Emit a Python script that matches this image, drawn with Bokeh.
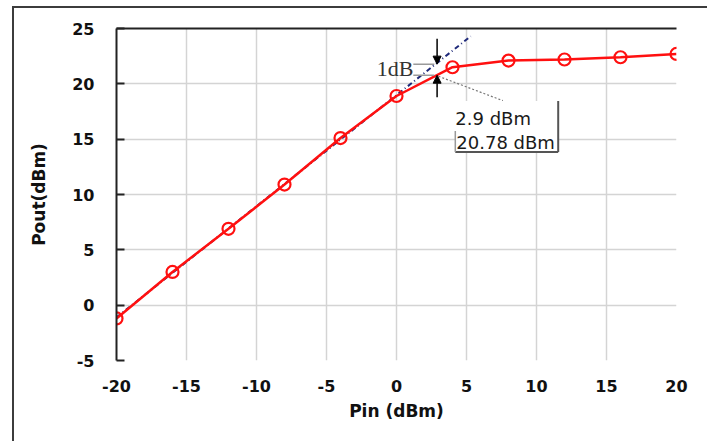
from bokeh.plotting import figure
from bokeh.models import Range1d, Arrow, NormalHead, LinearAxis, FixedTicker, Label
from bokeh.embed import file_html
from bokeh.resources import INLINE

# data
pin = [-20, -16, -12, -8, -4, 0, 4, 8, 12, 16, 20]
pout = [-1.2, 3.0, 6.9, 10.9, 15.1, 18.9, 21.5, 22.1, 22.2, 22.4, 22.7]
lin_x = [-20, 5.3]
lin_y = [-1.1, 24.3]
x_ticks = [-20, -15, -10, -5, 0, 5, 10, 15, 20]
y_ticks = [-5, 0, 5, 10, 15, 20, 25]
p1db_in = 2.9
p1db_out = 20.78
comp_db = 1.0
label_lines = ["2.9 dBm", "20.78 dBm"]

p = figure(width=695, height=435, x_range=Range1d(-20, 20), y_range=Range1d(-5, 25),
           output_backend="svg", toolbar_location=None,
           min_border_left=102, min_border_right=33, min_border_top=20, min_border_bottom=83)
p.margin = (6, 0, 0, 12)
p.styles = {"border-left": "2px solid #3c3c3c", "border-top": "2px solid #3c3c3c"}
p.outline_line_color = None
p.background_fill_color = "white"

# grid
p.xgrid.ticker = FixedTicker(ticks=x_ticks)
p.ygrid.ticker = FixedTicker(ticks=y_ticks)
p.grid.grid_line_color = "#d4d4d4"
p.grid.grid_line_width = 1.5

# axes
font = "DejaVu Sans"
p.xaxis.ticker = FixedTicker(ticks=x_ticks)
p.yaxis.ticker = FixedTicker(ticks=y_ticks)
p.xaxis.major_label_overrides = {t: str(t) for t in x_ticks}
p.yaxis.major_label_overrides = {t: str(t) for t in y_ticks}
p.xaxis.axis_line_color = None
p.xaxis.major_tick_line_color = None
p.xaxis.minor_tick_line_color = None
p.xaxis.major_label_standoff = 13
p.xaxis.axis_label = "Pin (dBm)"
p.xaxis.axis_label_standoff = 6
p.yaxis.axis_line_color = "#222222"
p.yaxis.axis_line_width = 2
p.yaxis.major_tick_in = 8
p.yaxis.major_tick_out = 0
p.yaxis.major_tick_line_width = 2
p.yaxis.major_tick_line_color = "#222222"
p.yaxis.minor_tick_line_color = None
p.yaxis.major_label_standoff = 22
p.yaxis.axis_label = "Pout(dBm)"
p.yaxis.axis_label_standoff = 20
for ax in (p.xaxis, p.yaxis):
    ax.major_label_text_font = font
    ax.major_label_text_font_style = "bold"
    ax.major_label_text_font_size = "16px"
    ax.major_label_text_color = "#111111"
    ax.axis_label_text_font = font
    ax.axis_label_text_font_style = "bold"
    ax.axis_label_text_font_size = "17px"
    ax.axis_label_text_color = "#111111"

top = LinearAxis(ticker=FixedTicker(ticks=[]), axis_line_color="#222222", axis_line_width=2,
                 major_tick_line_color=None, minor_tick_line_color=None,
                 major_label_text_color=None)
p.add_layout(top, "above")

# linear extrapolation
p.line(lin_x, lin_y, line_color="#1f2a7a", line_width=2, line_dash="5 3 1 3")
# measured curve
p.line(pin, pout, line_color="#ff1010", line_width=2.5)
p.scatter(pin, pout, marker="circle", size=12, fill_color=None, line_color="#ff1010", line_width=2.2)

# 1 dB compression annotation
up_tip = p1db_out + comp_db
lo_tip = p1db_out
p.add_layout(Arrow(end=NormalHead(size=8, fill_color="black", line_color="black"),
                   x_start=p1db_in, y_start=up_tip + 2.3, x_end=p1db_in, y_end=up_tip,
                   line_color="black", line_width=1.5))
p.add_layout(Arrow(end=NormalHead(size=8, fill_color="black", line_color="black"),
                   x_start=p1db_in, y_start=lo_tip - 2.0, x_end=p1db_in, y_end=lo_tip,
                   line_color="black", line_width=1.5))
p.segment(x0=[p1db_in - 1.7, p1db_in - 1.7], y0=[up_tip, lo_tip],
          x1=[p1db_in - 0.2, p1db_in - 0.2], y1=[up_tip, lo_tip],
          line_color="#9a9a9a", line_width=1.5)
p.add_layout(Label(x=p1db_in - 1.7, y=p1db_out + 0.6, text="1dB", text_font="Liberation Serif",
                   text_font_size="22px", text_color="#333333", text_align="right",
                   text_baseline="middle"))

# leader line
p.segment(x0=[p1db_in + 0.1], y0=[p1db_out - 0.1], x1=[p1db_in + 4.7], y1=[p1db_out - 2.3],
          line_color="#777777", line_width=1.2, line_dash="2 2")

# value box
bl, br, bt, bb = p1db_in + 1.3, p1db_in + 8.65, p1db_out - 2.33, p1db_out - 6.95
p.quad(left=[bl], right=[br], top=[bt], bottom=[bb], fill_color="white", line_color=None)
p.segment(x0=[br, bl], y0=[bt, bb], x1=[br, br], y1=[bb, bb], line_color="#555555", line_width=2)
p.segment(x0=[bl], y0=[bb + 1.9], x1=[bl], y1=[bb], line_color="#999999", line_width=1.5)
p.add_layout(Label(x=bl, y=bt - 1.55, text=label_lines[0], text_font=font, text_font_size="18px",
                   text_color="#1a1a1a", text_baseline="middle", x_offset=0))
p.add_layout(Label(x=bl, y=bt - 3.75, text=label_lines[1], text_font=font, text_font_size="18px",
                   text_color="#1a1a1a", text_baseline="middle", x_offset=1))

open("out.html", "w").write(file_html(p, INLINE))
